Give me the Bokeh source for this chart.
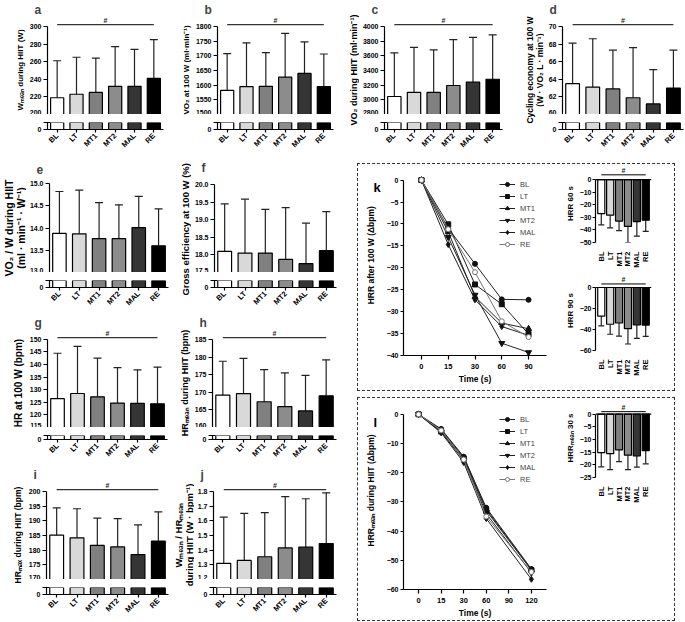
import math
from bokeh.plotting import figure
from bokeh.models import (ColumnDataSource, FactorRange, Range1d, FixedTicker, Whisker,
                          TeeHead, Span, NumeralTickFormatter, Spacer, LegendItem, Legend)
from bokeh.core.properties import value
from bokeh.layouts import row, column
from bokeh.embed import file_html
from bokeh.resources import INLINE

# ---------------- data ----------------
CATS = ["BL", "LT", "MT1", "MT2", "MAL", "RE"]
COLORS = ["#ffffff", "#d9d9d9", "#808080", "#8c8c8c", "#353535", "#000000"]

A_MEAN = [219, 223, 225, 232, 232, 241]
A_SD = [42, 42, 39, 45, 42, 44]
A_TICKS = [200, 220, 240, 260, 280, 300]

B_MEAN = [1582, 1595, 1596, 1627, 1640, 1595]
B_SD = [125, 149, 115, 149, 107, 111]
B_TICKS = [1500, 1550, 1600, 1650, 1700, 1750, 1800]

C_MEAN = [3045, 3100, 3100, 3195, 3240, 3280]
C_SD = [595, 615, 580, 625, 610, 605]
C_TICKS = [2800, 3000, 3200, 3400, 3600, 3800, 4000]

D_MEAN = [63.5, 63.1, 62.9, 61.9, 61.2, 63.0]
D_SD = [4.6, 5.5, 4.4, 5.7, 3.9, 4.3]
D_TICKS = [60, 62, 64, 66, 68, 70]

E_MEAN = [13.88, 13.87, 13.76, 13.76, 14.01, 13.60]
E_SD = [0.94, 0.98, 0.81, 0.76, 0.70, 0.83]
E_TICKS = [13.0, 13.5, 14.0, 14.5, 15.0]

F_MEAN = [18.10, 18.05, 18.05, 17.87, 17.75, 18.12]
F_SD = [1.35, 1.53, 1.24, 1.47, 1.15, 1.11]
F_TICKS = [17.5, 18.0, 18.5, 19.0, 19.5, 20.0]

G_MEAN = [126.5, 128.5, 127.2, 124.7, 124.6, 124.4]
G_SD = [18.0, 18.7, 15.4, 14.1, 13.3, 14.6]
G_TICKS = [115, 120, 125, 130, 135, 140, 145, 150]

H_MEAN = [169.2, 169.6, 167.3, 165.9, 164.7, 169.0]
H_SD = [9.6, 10.0, 9.1, 9.6, 10.1, 10.2]
H_TICKS = [160, 165, 170, 175, 180, 185]

I_MEAN = [185.1, 184.2, 181.6, 181.1, 178.5, 183.1]
I_SD = [9.3, 9.9, 9.3, 9.6, 10.1, 9.9]
I_TICKS = [170, 175, 180, 185, 190, 195, 200]

J_MEAN = [1.31, 1.33, 1.355, 1.415, 1.42, 1.445]
J_SD = [0.315, 0.32, 0.30, 0.35, 0.33, 0.345]
J_TICKS = [1.2, 1.3, 1.4, 1.5, 1.6, 1.7, 1.8]

# panel k: HRR after 100 W
K_TIMES = ["0", "15", "30", "60", "90"]
K_SERIES = {
    "BL":  [0, -11.0, -19.1, -27.2, -27.3],
    "LT":  [0, -10.1, -23.8, -28.3, -35.1],
    "MT1": [0, -11.8, -26.6, -32.6, -33.9],
    "MT2": [0, -13.0, -26.2, -37.2, -39.3],
    "MAL": [0, -14.7, -27.3, -33.4, -35.4],
    "RE":  [0, -11.2, -21.0, -32.2, -35.8],
}
K_YTICKS = [-40, -35, -30, -25, -20, -15, -10, -5, 0]
K60_MEAN = [-27.0, -28.3, -33.0, -37.2, -33.4, -32.3]
K60_SD = [9.0, 10.0, 7.5, 12.8, 11.6, 8.9]
K60_TICKS = [-50, -40, -30, -20, -10, 0]
K90_MEAN = [-27.2, -35.0, -33.8, -39.2, -35.5, -35.8]
K90_SD = [9.3, 9.5, 12.5, 14.6, 13.0, 10.7]
K90_TICKS = [-60, -40, -20, 0]

# panel l: HRR_mean during HIIT
L_TIMES = ["0", "15", "30", "60", "90", "120"]
L_X = ["0", "15", "30", "60", "120"]
L_SERIES = {
    "BL":  [0, -5.0, -14.5, -32.0, -53.0],
    "LT":  [0, -5.9, -15.2, -33.0, -53.4],
    "MT1": [0, -5.3, -14.8, -32.5, -53.2],
    "MT2": [0, -6.0, -15.8, -34.0, -54.3],
    "MAL": [0, -6.3, -16.5, -35.7, -56.5],
    "RE":  [0, -5.5, -15.5, -35.0, -54.0],
}
L_YTICKS = [-60, -50, -40, -30, -20, -10, 0]
L30_MEAN = [-15.2, -15.6, -14.1, -16.2, -16.5, -14.4]
L30_SD = [5.6, 6.3, 4.6, 5.7, 4.4, 5.2]
L30_TICKS = [-25, -20, -15, -10, -5, 0]

FONT = "Liberation Sans"
MARKERS = {"BL": ("circle", 5, "#111111", "#111111"),
           "LT": ("square", 5, "#111111", "#111111"),
           "MT1": ("triangle", 6, "#111111", "#111111"),
           "MT2": ("inverted_triangle", 6, "#111111", "#111111"),
           "MAL": ("diamond", 6, "#111111", "#111111"),
           "RE": ("circle", 5, "#ffffff", "#777777")}


def style_axis(ax, tick_size="7px", label_size="7.5px", label_style="bold"):
    ax.axis_line_width = 1.2
    ax.axis_line_color = "black"
    ax.major_tick_line_width = 1.2
    ax.major_tick_line_color = "black"
    ax.minor_tick_line_color = None
    ax.major_label_text_font = FONT
    ax.major_label_text_font_size = tick_size
    ax.major_label_text_font_style = "bold"
    ax.major_label_text_color = "black"
    ax.axis_label_text_font = FONT
    ax.axis_label_text_font_style = label_style
    ax.axis_label_text_font_size = label_size
    ax.axis_label_text_color = "black"
    ax.major_label_standoff = 2
    ax.axis_label_standoff = 2


def base_fig(xr, yr, w, h, L, R, T, B, x_loc="below", y_loc="left", title=None):
    p = figure(x_range=xr, y_range=yr, width=w, height=h, min_border_left=L,
               min_border_right=R, min_border_top=T, min_border_bottom=B,
               toolbar_location=None, output_backend="svg", x_axis_location=x_loc,
               y_axis_location=y_loc, title=title)
    p.xgrid.visible = False
    p.ygrid.visible = False
    p.outline_line_color = None
    return p


def strip(w, h, texts):
    """A narrow text-only figure holding rotated axis titles and panel letters."""
    s = base_fig(Range1d(0, w), Range1d(0, h), w, h, 0, 0, 0, 0, x_loc=None, y_loc=None)
    for (tx, x, y, ang, size, style, align, base) in texts:
        s.text(x=[x], y=[y], text=[tx], angle=ang, text_font=value(FONT),
               text_font_size=value(size), text_font_style=value(style),
               text_align=value(align), text_baseline=value(base), text_color="black",
               text_line_height=1.0)
    return s


def sig_marks(p, y):
    p.segment(x0=[CATS[0]], y0=[y], x1=[CATS[-1]], y1=[y], line_color="black", line_width=1)
    p.text(x=[len(CATS) / 2], y=[y], text=["#"], y_offset=-1, text_font=value(FONT),
           text_font_size=value("7px"), text_font_style=value("bold"), text_color="#222222",
           text_align=value("center"), text_baseline=value("bottom"))


def bar_panel(let, ylabel, fs, means, sds, ticks, sig, W, A, L, FW, cx, row_h, fmt=None):
    lo, hi = ticks[0], ticks[-1]
    span = hi - lo
    Sw = A - L
    R = W - A - FW
    FH = 99
    upper = [m + s for m, s in zip(means, sds)]
    src = ColumnDataSource(dict(cat=CATS, mean=means, upper=upper, color=COLORS))
    xr = FactorRange(factors=CATS)
    p = base_fig(xr, Range1d(lo, hi + span * 10.0 / 89), W - Sw, 15 + FH, L, R, 15, 0,
                 x_loc=None, title=let)
    p.title.align = "left"
    p.title.offset = -13
    p.title.standoff = 0
    p.title.text_font = FONT
    p.title.text_font_size = "12px"
    p.title.text_font_style = "bold"
    p.vbar(x="cat", top="mean", bottom=0, width=0.68, fill_color="color",
           line_color="black", line_width=1.2, source=src)
    p.add_layout(Whisker(source=src, base="cat", lower="mean", upper="upper", lower_head=None,
                         upper_head=TeeHead(size=8, line_color="#222222", line_width=1.2),
                         line_color="#222222", line_width=1.2))
    yax = p.yaxis[0]
    yax.ticker = FixedTicker(ticks=ticks)
    yax.bounds = (lo, hi)
    style_axis(yax)
    yax.major_tick_out = 4
    yax.major_tick_in = 0
    if fmt:
        yax.formatter = NumeralTickFormatter(format=fmt)
    if sig:
        sig_marks(p, hi + span * 1.7 / 89)

    B = row_h - 114 - 15
    q = base_fig(xr, Range1d(0, 1), W - Sw, 15 + B, L, R, 8, B)
    q.vbar(x="cat", top="mean", bottom=0, width=0.68, fill_color="color",
           line_color="black", line_width=1.2, source=src)
    qy = q.yaxis[0]
    qy.ticker = FixedTicker(ticks=[0, 1])
    qy.major_label_overrides = {1: ""}
    style_axis(qy)
    qy.major_tick_out = 4
    qy.major_tick_in = 3
    qx = q.xaxis[0]
    style_axis(qx, tick_size="7.5px")
    qx.major_label_orientation = math.pi / 4
    qx.major_tick_out = 3
    qx.major_tick_in = 0
    s = strip(Sw, row_h, [(ylabel, cx, row_h - 69.5, math.pi / 2, fs, "bold",
                           "center", "middle")])
    return row(s, column(p, q))


def hrr_bars(ylabel, means, sds, ticks, ext, sig_y, W, L, FW, FH, B):
    lo = ticks[0]
    R = W - L - FW
    lower = [m - s for m, s in zip(means, sds)]
    src = ColumnDataSource(dict(cat=CATS, mean=means, lower=lower, color=COLORS))
    p = base_fig(FactorRange(factors=CATS, range_padding=0.15, range_padding_units="absolute"),
                 Range1d(lo, ext), W, FH + B, L, R, 0, B)
    p.vbar(x="cat", top=0, bottom="mean", width=0.8, fill_color="color",
           line_color="black", line_width=1.2, source=src)
    p.add_layout(Whisker(source=src, base="cat", lower="lower", upper="mean", upper_head=None,
                         lower_head=TeeHead(size=6, line_color="#222222", line_width=1.2),
                         line_color="#222222", line_width=1.2))
    p.add_layout(Span(location=0, dimension="width", line_color="black", line_width=1.2))
    yax = p.yaxis[0]
    yax.ticker = FixedTicker(ticks=ticks)
    yax.bounds = (lo, 0)
    style_axis(yax, tick_size="7px", label_size="8px")
    yax.major_tick_out = 3
    yax.major_tick_in = 0
    yax.major_label_standoff = 1
    yax.axis_label_standoff = 2
    yax.axis_label = ylabel
    xax = p.xaxis[0]
    style_axis(xax, tick_size="7.5px")
    xax.axis_line_color = None
    xax.major_tick_line_color = None
    xax.major_label_orientation = math.pi / 2
    xax.major_label_standoff = 3
    sig_marks(p, sig_y)
    return p


def line_panel(let, ylabel, times, xs, series, yticks, ext, Sw, L, FW, R, T, FH, B):
    H = T + FH + B
    p = base_fig(FactorRange(factors=times, range_padding=0.17, range_padding_units="absolute"),
                 Range1d(yticks[0], ext), L + FW + R, H, L, R, T, B)
    items = []
    for name, ys in series.items():
        mk, size, fill, lc = MARKERS[name]
        line_col = "#777777" if name == "RE" else "#222222"
        lr = p.line(x=xs, y=ys, line_color=line_col, line_width=1)
        sr = p.scatter(x=xs, y=ys, marker=mk, size=size, fill_color=fill, line_color=lc,
                       line_width=1)
        items.append(LegendItem(label=name, renderers=[lr, sr]))
    leg = Legend(items=items, location="top_right", border_line_color=None,
                 background_fill_alpha=0, label_text_font=FONT, label_text_font_size="7.5px",
                 glyph_height=10, glyph_width=16, label_height=10, spacing=2,
                 padding=2, margin=6, label_standoff=5)
    p.add_layout(leg)
    yax = p.yaxis[0]
    yax.ticker = FixedTicker(ticks=yticks)
    yax.bounds = (yticks[0], 0)
    style_axis(yax, tick_size="7px")
    yax.major_tick_out = 3
    yax.major_tick_in = 0
    yax.major_label_standoff = 2
    xax = p.xaxis[0]
    style_axis(xax, tick_size="7.5px", label_size="8.5px")
    xax.major_tick_out = 4
    xax.major_tick_in = 0
    xax.axis_label = "Time (s)"
    xax.major_label_standoff = 4
    s = strip(Sw, H, [(ylabel, 12, H - (T + FH / 2), math.pi / 2, "8.5px", "bold",
                       "center", "middle"),
                      (let, 15, H - 17, 0, "13px", "bold", "left", "alphabetic")])
    return row(s, p)


# ---------------- build ----------------
ROW_H = [158, 155, 152, 156]

pa = bar_panel("a", "Wₘₑₐₙ during HIIT (W)", "8px", A_MEAN, A_SD, A_TICKS, True,
               170, 46, 20, 117, 20, ROW_H[0])
pb = bar_panel("b", "VO₂ at 100 W (ml·min⁻¹)", "8px", B_MEAN, B_SD, B_TICKS, True,
               170, 46, 24, 117, 16, ROW_H[0])
pc = bar_panel("c", "VO₂ during HIIT (ml·min⁻¹)", "9px", C_MEAN, C_SD, C_TICKS, True,
               170, 43, 24, 119, 13, ROW_H[0])
pd_ = bar_panel("d", "Cycling economy at 100 W\n(W · VO₂ L · min⁻¹)", "8.5px", D_MEAN, D_SD,
                D_TICKS, True, 174, 52, 18, 121, 24, ROW_H[0])

pe = bar_panel("e", "VO₂ / W during HIIT\n(ml · min⁻¹ · W⁻¹)", "10.5px", E_MEAN, E_SD, E_TICKS,
               False, 170, 46, 20, 122, 14, ROW_H[1], fmt="0.0")
pf = bar_panel("f", "Gross efficiency at 100  W (%)", "9.5px", F_MEAN, F_SD, F_TICKS, False,
               170, 43, 22, 123, 15, ROW_H[1], fmt="0.0")
pg = bar_panel("g", "HR at 100 W (bpm)", "10px", G_MEAN, G_SD, G_TICKS, True,
               170, 46, 20, 121, 18, ROW_H[2])
ph = bar_panel("h", "HRₘₑₐₙ during HIIT (bpm)", "9px", H_MEAN, H_SD, H_TICKS, True,
               170, 41, 20, 125, 14, ROW_H[2])
pi_ = bar_panel("i", "HRₘₐₓ during HIIT (bpm)", "8.5px", I_MEAN, I_SD, I_TICKS, True,
                170, 45, 20, 123, 17, ROW_H[3])
pj = bar_panel("j", "Wₘₑₐₙ / HRₘₑₐₙ\nduring HIIT (W · bpm⁻¹)", "9.5px", J_MEAN, J_SD, J_TICKS,
               True, 170, 42, 18, 124, 13, ROW_H[3], fmt="0.0")

k_line = line_panel("k", "HRR after 100  W (Δbpm)", K_TIMES, K_TIMES, K_SERIES, K_YTICKS, 1.5,
                    25, 16, 147, 1, 9, 182, 35)
k60 = hrr_bars("HRR 60 s", K60_MEAN, K60_SD, K60_TICKS, 12, 3.8, 127, 48, 56, 81, 25)
k90 = hrr_bars("HRR 90 s", K90_MEAN, K90_SD, K90_TICKS, 16.2, 3.4, 127, 48, 56, 83, 25)

l_line = line_panel("l", "HRRₘₑₐₙ during HIIT (Δbpm)", L_TIMES, L_X, L_SERIES, L_YTICKS, 2,
                    25, 16, 147, 1, 10, 181, 31)
l30 = hrr_bars("HRRₘₑₐₙ 30 s", L30_MEAN, L30_SD, L30_TICKS, 6.2, 1.0, 127, 48, 56, 82, 25)

box_style = {"border": "1px dashed #333333"}
kbox = row(k_line, column(k60, k90), styles=box_style)
lbox = row(l_line, column(l30), styles=box_style)

top_row = row(pa, pb, pc, pd_)
left_block = column(row(pe, pf), row(pg, ph), row(pi_, pj))
right_col = column(Spacer(height=5), kbox, Spacer(height=6), lbox)
layout = column(top_row, row(left_block, Spacer(width=17), right_col))

open("out.html", "w").write(file_html(layout, INLINE))
